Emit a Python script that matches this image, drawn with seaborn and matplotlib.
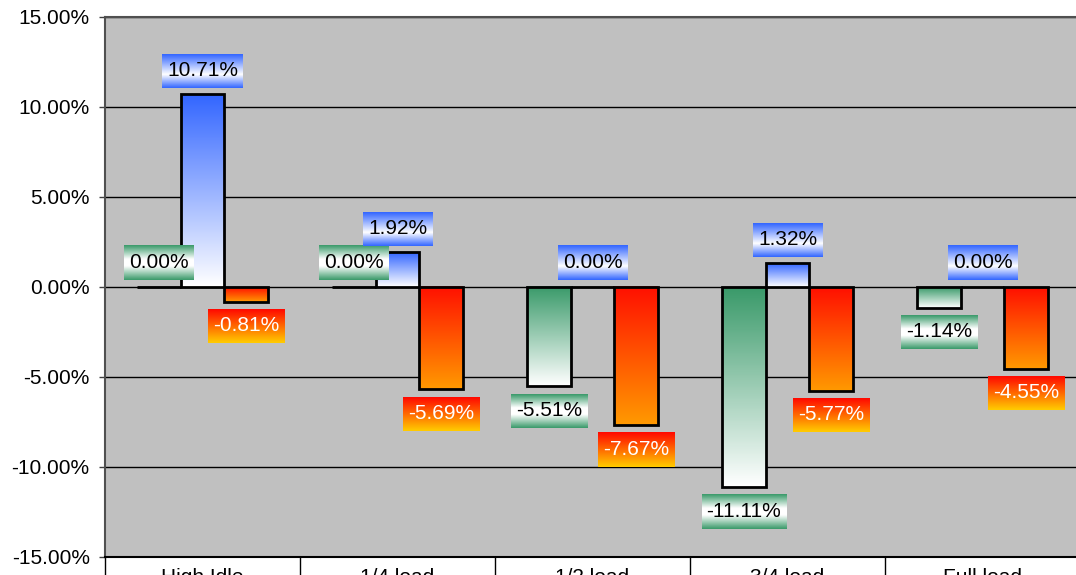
import numpy as np
import pandas as pd
import matplotlib
matplotlib.use("Agg")
import matplotlib.pyplot as plt
from matplotlib.colors import LinearSegmentedColormap
import seaborn as sns

# data
categories = ["High Idle", "1/4 load", "1/2 load", "3/4 load", "Full load"]
series_names = ["Green", "Blue", "Red"]
green_vals = [0.00, 0.00, -5.51, -11.11, -1.14]
blue_vals = [10.71, 1.92, 0.00, 1.32, 0.00]
red_vals = [-0.81, -5.69, -7.67, -5.77, -4.55]
yticks = [-15, -10, -5, 0, 5, 10, 15]

plt.rcParams['font.family'] = ['Liberation Sans', 'DejaVu Sans']

df = pd.DataFrame({'load': categories * 3,
                   'series': np.repeat(series_names, len(categories)),
                   'value': green_vals + blue_vals + red_vals})
values = {'Green': green_vals, 'Blue': blue_vals, 'Red': red_vals}

# gradients (top -> bottom)
bar_grad = {'Green': ['#3A9A6A', 'white'],
            'Blue': ['#3366FF', 'white'],
            'Red': ['#FF1000', '#FF9900']}
label_grad = {'Green': [(0, '#3A9A6A'), (0.4, 'white'), (0.6, 'white'), (1, '#3A9A6A')],
              'Blue': [(0, '#3366FF'), (0.6, 'white'), (1, '#3366FF')],
              'Red': [(0, '#FF0800'), (1, '#FFCC00')]}
label_txt = {'Green': 'black', 'Blue': 'black', 'Red': 'white'}


def grad_img(stops, n=120):
    cmap = LinearSegmentedColormap.from_list('g', stops)
    return cmap(np.linspace(0, 1, n))[:, None, :]


fig = plt.figure(figsize=(10.76, 5.75), dpi=100)
ax = fig.add_axes([105 / 1076, 18 / 575, 975 / 1076, 540 / 575])
ax.set_facecolor('#C0C0C0')

sns.barplot(data=df, x='load', y='value', hue='series', order=categories,
            hue_order=series_names, width=0.67, errorbar=None, legend=False,
            edgecolor='black', linewidth=2, ax=ax)

texts = []
for name, cont in zip(series_names, ax.containers):
    for j, patch in enumerate(cont.patches):
        x0, y0 = patch.get_x(), patch.get_y()
        w, h = patch.get_width(), patch.get_height()
        patch.set_facecolor('none')
        patch.set_zorder(3)
        if h != 0:
            ax.imshow(grad_img(bar_grad[name]), extent=[x0, x0 + w, min(y0, y0 + h), max(y0, y0 + h)],
                      aspect='auto', origin='upper', zorder=2, interpolation='bilinear')
        val = values[name][j]
        off = 17.3 if val >= 0 else -17.3
        t = ax.annotate(f"{val:.2f}%", xy=(x0 + w / 2, val), xytext=(0, off),
                        textcoords='offset points', ha='center', va='center',
                        fontsize=15, color=label_txt[name], zorder=6)
        texts.append((name, t))

ax.set_xlim(-0.5, len(categories) - 0.5)
ax.set_ylim(-15, 15)

# gradient label boxes
fig.canvas.draw()
renderer = fig.canvas.get_renderer()
inv = ax.transData.inverted()
for name, t in texts:
    bb = t.get_window_extent(renderer)
    (dx0, dy0) = inv.transform((bb.x0 - 5, bb.y0 - 8))
    (dx1, dy1) = inv.transform((bb.x1 + 5, bb.y1 + 7))
    ax.imshow(grad_img(label_grad[name]), extent=[dx0, dx1, dy0, dy1],
              aspect='auto', origin='upper', zorder=5, interpolation='bilinear')

ax.set_xlim(-0.5, len(categories) - 0.5)
ax.set_ylim(-15, 15)

# axes styling
ax.set_yticks(yticks)
ax.set_yticklabels([f"{v:.2f}%" for v in yticks], fontsize=15)
ax.set_xticks(range(len(categories)))
ax.set_xticklabels(categories, fontsize=15)
ax.set_xticks(np.arange(-0.5, len(categories)), minor=True)
ax.tick_params(axis='x', which='major', length=0, pad=8)
ax.tick_params(axis='x', which='minor', length=16, width=1, color='black', direction='out')
ax.tick_params(axis='y', length=4, width=1, color='#404040', pad=7)
ax.set_xlabel('')
ax.set_ylabel('')
ax.set_axisbelow(True)
ax.yaxis.grid(True, color='black', linewidth=1)
ax.xaxis.grid(False)
for side in ['left', 'top']:
    ax.spines[side].set_color('#505050')
    ax.spines[side].set_linewidth(1.5)
ax.spines['bottom'].set_color('black')
ax.spines['bottom'].set_linewidth(1.5)
ax.spines['right'].set_visible(False)

fig.savefig('out.png', dpi=100)
